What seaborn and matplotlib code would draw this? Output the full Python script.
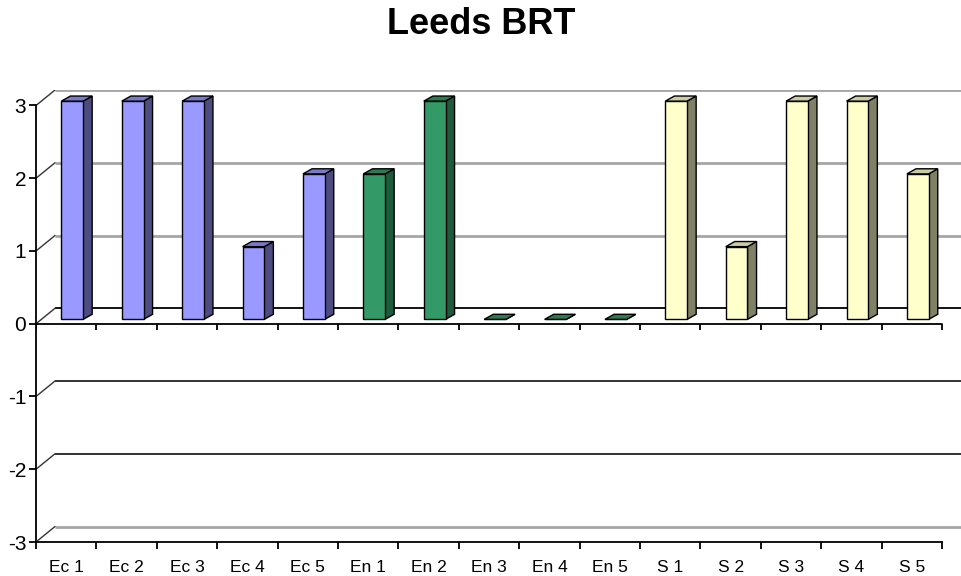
"""
Leeds BRT scores - Excel-style 3D column chart redrawn with seaborn
"""

import pandas as pd
import matplotlib.pyplot as plt
import seaborn as sns
from matplotlib.patches import Polygon

# Data
categories = ["Ec 1", "Ec 2", "Ec 3", "Ec 4", "Ec 5",
              "En 1", "En 2", "En 3", "En 4", "En 5",
              "S 1", "S 2", "S 3", "S 4", "S 5"]
values = [3, 3, 3, 1, 2,
          2, 3, 0, 0, 0,
          3, 1, 3, 3, 2]
groups = ["Ec"] * 5 + ["En"] * 5 + ["S"] * 5
y_ticks = [-3, -2, -1, 0, 1, 2, 3]

front_colors = {"Ec": "#9999ff", "En": "#339966", "S": "#ffffcc"}
side_colors = {"Ec": "#4c4c80", "En": "#1f5a3d", "S": "#808066"}
top_colors = {"Ec": "#7a7acc", "En": "#2a7a52", "S": "#cccca3"}

# 3D look (data units)
wall_dx, wall_dy = 0.315, 0.213
bar_shift_x, bar_shift_y = 0.10, 0.06
bar_dx, bar_dy = 0.15, 0.07
bar_width = 0.36

df = pd.DataFrame({"cat": categories, "val": values, "group": groups})

sns.set_style("white")
plt.rcParams["font.family"] = ["Liberation Sans", "DejaVu Sans"]
plt.rcParams["text.color"] = "black"
plt.rcParams["xtick.color"] = "black"
plt.rcParams["ytick.color"] = "black"

fig = plt.figure(figsize=(9.62, 5.76), dpi=100)
W, H = 962, 576
ax = fig.add_axes([36 / W, (H - 542) / H, (961 - 36) / W, (542 - 90) / H])

n = len(categories)
x_left, x_right = -0.5, n - 0.5

# Back wall gridlines and the slanted side-wall lines
grid_style = {3: "#a6a6a6", 2: "#a6a6a6", 1: "#a6a6a6", 0: "#000000",
              -1: "#222222", -2: "#222222", -3: "#a6a6a6"}
for v in y_ticks:
    c = grid_style[v]
    lw = 2.0 if c == "#a6a6a6" else 1.3
    ax.hlines(v + wall_dy, x_left + wall_dx, x_right + wall_dx + 1, color=c, lw=lw, zorder=0.5)
    ax.plot([x_left, x_left + wall_dx], [v, v + wall_dy], color="#333333", lw=1.0, zorder=0.6)

# Front category axis at zero with its tick marks
boundaries = [i - 0.5 for i in range(n + 1)]
ax.plot([x_left, x_right], [0, 0], color="black", lw=1.3, zorder=1)
ax.vlines(boundaries, -0.09, 0, color="black", lw=1.3, zorder=1)

# Front faces through seaborn
sns.barplot(data=df, x="cat", y="val", hue="group", palette=front_colors,
            dodge=False, width=bar_width, saturation=1, edgecolor="black", linewidth=1,
            legend=False, ax=ax, zorder=3)

# Shift the bars into the box and add side / top faces
for p in list(ax.patches):
    x0 = p.get_x() + bar_shift_x
    y0 = p.get_y() + bar_shift_y
    w = p.get_width()
    h = p.get_height()
    p.set_x(x0)
    p.set_y(y0)
    g = groups[int(round(x0 - bar_shift_x + w / 2))]
    x1, y1 = x0 + w, y0 + h
    side = Polygon([(x1, y0), (x1 + bar_dx, y0 + bar_dy), (x1 + bar_dx, y1 + bar_dy), (x1, y1)],
                   closed=True, facecolor=side_colors[g], edgecolor="black", lw=1, zorder=2.9)
    top = Polygon([(x0, y1), (x1, y1), (x1 + bar_dx, y1 + bar_dy), (x0 + bar_dx, y1 + bar_dy)],
                  closed=True, facecolor=top_colors[g], edgecolor="black", lw=1, zorder=3.1)
    ax.add_patch(side)
    ax.add_patch(top)

# seaborn resets the category limits, so set them afterwards
ax.set_xlim(x_left, x_right + wall_dx)
ax.set_ylim(-3, 3 + wall_dy)

# Axes styling
for s in ["top", "right"]:
    ax.spines[s].set_visible(False)
ax.spines["left"].set_bounds(-3, 3)
ax.spines["bottom"].set_bounds(x_left, x_right)
for s in ["left", "bottom"]:
    ax.spines[s].set_color("black")
    ax.spines[s].set_linewidth(1.3)

ax.set_yticks(y_ticks)
ax.set_yticklabels([str(v) for v in y_ticks], fontsize=15)
ax.tick_params(axis="y", length=5, width=1.3, direction="out", pad=2, left=True)

ax.set_xticks(range(n))
ax.set_xticklabels(categories, fontsize=12.5)
ax.set_xticks(boundaries, minor=True)
ax.tick_params(axis="x", which="major", length=0, pad=13)
ax.tick_params(axis="x", which="minor", length=5, width=1.3, direction="out", bottom=True)

ax.set_xlabel("")
ax.set_ylabel("")
ax.grid(False)

fig.text(481 / W, 1 - 24 / H, "Leeds BRT", ha="center", va="center",
         fontsize=26, fontweight="bold")

fig.savefig("out.png", dpi=100)
plt.close(fig)
